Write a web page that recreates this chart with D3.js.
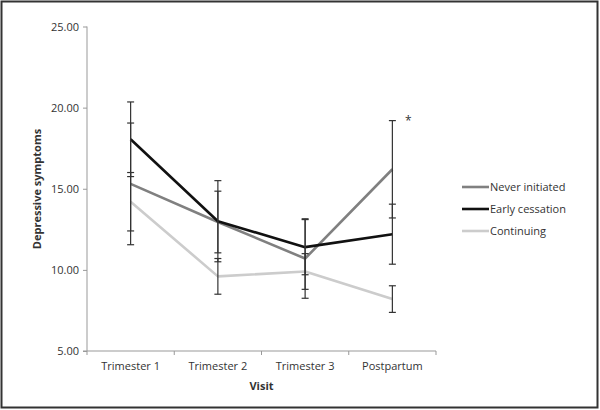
<!DOCTYPE html>
<html><head><meta charset="utf-8">
<script src="https://cdn.jsdelivr.net/npm/d3@7"></script>
<style>body{margin:0;background:#fff}svg{display:block}text{font-family:"Open Sans",sans-serif}</style>
</head><body><svg id="c" width="600" height="410"></svg>
<script>
const visits = ["Trimester 1","Trimester 2","Trimester 3","Postpartum"];
const yTicks = [5,10,15,20,25];
const seriesNames = ["Never initiated","Early cessation","Continuing"];
const seriesColors = ["#808080","#111111","#cccccc"];
const neverInitiated = [15.3, 12.95, 10.7, 16.2];
const neverInitiatedErr = [3.75, 1.9, 2.45, 3.0];
const earlyCessation = [18.05, 13.0, 11.4, 12.2];
const earlyCessationErr = [2.3, 2.5, 1.7, 1.85];
const continuing = [14.2, 9.6, 9.9, 8.2];
const continuingErr = [1.8, 1.1, 1.1, 0.82];
const seriesValues = [neverInitiated, earlyCessation, continuing];
const seriesErrs = [neverInitiatedErr, earlyCessationErr, continuingErr];

const svg = d3.select("#c");
svg.append("rect").attr("x",1.5).attr("y",1.5).attr("width",596).attr("height",406)
  .attr("fill","#fff").attr("stroke","#333").attr("stroke-width",2);

const x = d3.scaleBand().domain(visits).range([87,436]);
const y = d3.scaleLinear().domain([5,25]).range([351,26.5]);
const cx = d => x(d) + x.bandwidth()/2;

// y axis
const yAxis = svg.append("g").attr("transform","translate(87,0)")
  .call(d3.axisLeft(y).tickValues(yTicks).tickFormat(d3.format(".2f")).tickSize(4).tickPadding(4));
yAxis.select(".domain").attr("stroke","#999").attr("d","M0,26.5V351");
yAxis.selectAll(".tick line").attr("stroke","#999");
yAxis.selectAll("text").attr("font-size",11).attr("fill","#333").attr("font-family","Open Sans");

// x axis
const xAxis = svg.append("g").attr("transform","translate(0,351)")
  .call(d3.axisBottom(x).tickSize(0).tickPadding(11));
xAxis.select(".domain").attr("stroke","#999").attr("d","M83,0H436");
xAxis.selectAll("text").attr("font-size",11).attr("fill","#333").attr("font-family","Open Sans");
const xb = [...visits.map(v=>x(v)), 436];
svg.append("g").selectAll("line").data(xb).join("line")
  .attr("x1",d=>d).attr("x2",d=>d).attr("y1",351).attr("y2",355).attr("stroke","#999");

// axis titles
svg.append("text").attr("x",cx(visits[0])/2+cx(visits[3])/2).attr("y",390).attr("text-anchor","middle")
  .attr("font-size",11).attr("font-weight","bold").attr("fill","#333").text("Visit");
svg.append("text").attr("transform","translate(41,189) rotate(-90)").attr("text-anchor","middle")
  .attr("font-size",11).attr("font-weight","bold").attr("fill","#333").text("Depressive symptoms");

// lines
const line = d3.line().x((d,i)=>cx(visits[i])).y(d=>y(d));
seriesValues.forEach((vals,s)=>{
  svg.append("path").datum(vals).attr("d",line).attr("fill","none")
    .attr("stroke",seriesColors[s]).attr("stroke-width",2.6).attr("stroke-linejoin","round");
});

// error bars
seriesValues.forEach((vals,s)=>{
  const g = svg.append("g").attr("stroke","#333").attr("stroke-width",1.2);
  vals.forEach((v,i)=>{
    const e = seriesErrs[s][i], X = cx(visits[i]);
    g.append("line").attr("x1",X).attr("x2",X).attr("y1",y(v+e)).attr("y2",y(v-e));
    [v+e, v-e].forEach(t=>g.append("line").attr("x1",X-3.5).attr("x2",X+3.5).attr("y1",y(t)).attr("y2",y(t)));
  });
});

// asterisk
svg.append("text").attr("x",cx(visits[3])+16).attr("y",125).attr("text-anchor","middle")
  .attr("font-size",12).attr("fill","#333").text("*");

// legend
const lg = svg.append("g");
seriesNames.forEach((n,i)=>{
  const yy = 187 + i*22;
  lg.append("line").attr("x1",462).attr("x2",489).attr("y1",yy).attr("y2",yy)
    .attr("stroke",seriesColors[i]).attr("stroke-width",2.6);
  lg.append("text").attr("x",490).attr("y",yy).attr("dy","0.35em").attr("font-size",11)
    .attr("fill","#333").text(n);
});
</script></body></html>
